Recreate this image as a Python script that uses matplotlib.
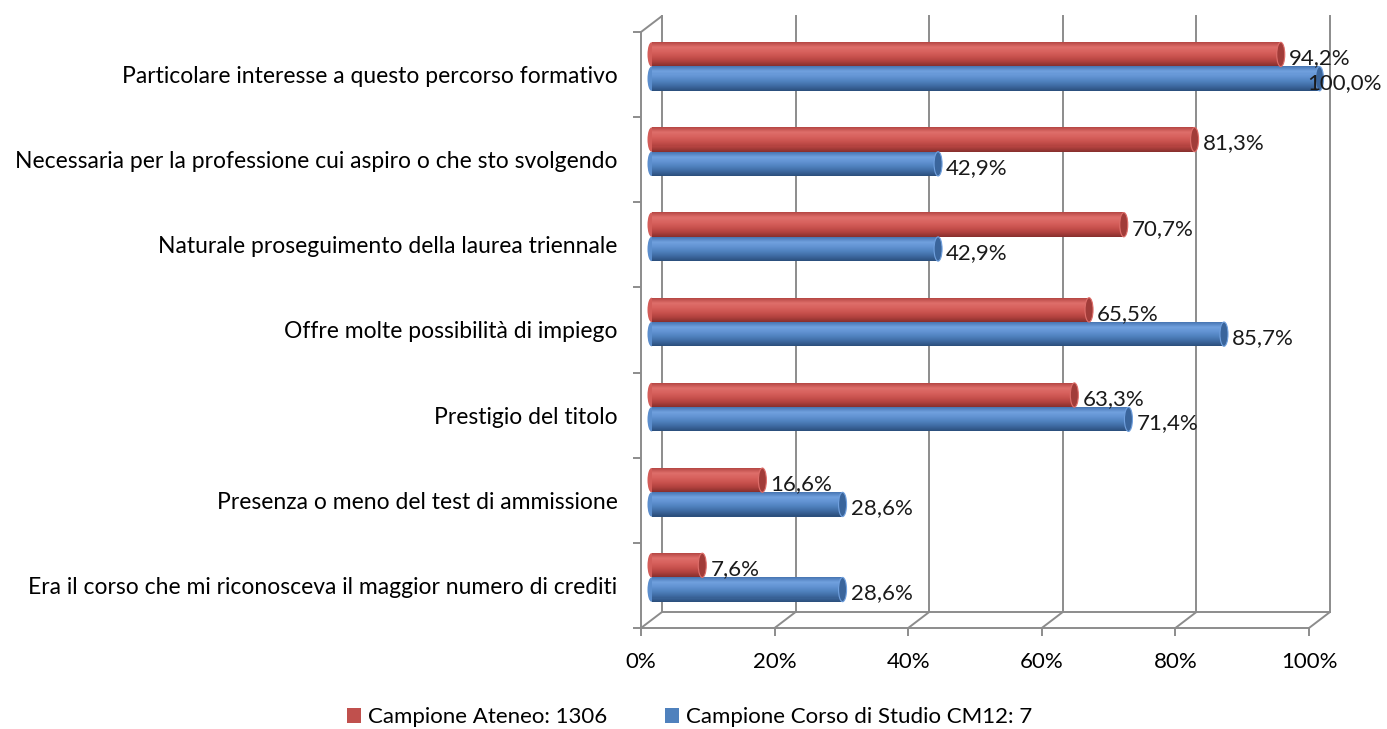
import matplotlib
matplotlib.use("Agg")
import matplotlib.pyplot as plt
import numpy as np
from matplotlib.transforms import offset_copy
from matplotlib.patches import Ellipse, ConnectionPatch, Patch
from matplotlib.colors import LinearSegmentedColormap

categories = [
    "Era il corso che mi riconosceva il maggior numero di crediti",
    "Presenza o meno del test di ammissione",
    "Prestigio del titolo",
    "Offre molte possibilità di impiego",
    "Naturale proseguimento della laurea triennale",
    "Necessaria per la professione cui aspiro o che sto svolgendo",
    "Particolare interesse a questo percorso formativo",
]
ateneo = [7.6, 16.6, 63.3, 65.5, 70.7, 81.3, 94.2]
corso = [28.6, 28.6, 71.4, 85.7, 42.9, 42.9, 100.0]
series_names = ["Campione Ateneo: 1306", "Campione Corso di Studio CM12: 7"]
xticks = [0, 20, 40, 60, 80, 100]
xtick_labels = ["0%", "20%", "40%", "60%", "80%", "100%"]

plt.rcParams['font.family'] = ['Lato', 'DejaVu Sans']
FS_CAT = 16.5
FS_NUM = 16
GRID = "#8c8c8c"

fig = plt.figure(figsize=(13.87, 7.29), dpi=100)
ax = fig.add_axes([641/1387, 101/729, 668/1387, 596/729])
ax.set_xlim(0, 100)
ax.set_ylim(0, len(categories))

back = offset_copy(ax.transData, fig=fig, x=21, y=16, units='dots')
mid = offset_copy(ax.transData, fig=fig, x=10.5, y=8, units='dots')

# back wall gridlines and floor
for v in xticks:
    ax.plot([v, v], [0, len(categories)], transform=back, color=GRID, lw=1.4,
            clip_on=False, zorder=1)
    ax.add_artist(ConnectionPatch(xyA=(v, 0), coordsA=ax.transData,
                                  xyB=(v, 0), coordsB=back, color=GRID, lw=1.4,
                                  zorder=1))
ax.plot([0, 100], [0, 0], transform=back, color=GRID, lw=1.4, clip_on=False, zorder=1)
ax.add_artist(ConnectionPatch(xyA=(0, len(categories)), coordsA=ax.transData,
                              xyB=(0, len(categories)), coordsB=back, color=GRID,
                              lw=1.4, zorder=1))

red_cm = LinearSegmentedColormap.from_list(
    "r", ["#b84946", "#de6e6a", "#d7615d", "#c9524e", "#b2423f", "#8a302e"])
blue_cm = LinearSegmentedColormap.from_list(
    "b", ["#4a78b5", "#70a0de", "#6192d2", "#4f81bd", "#3e6aa2", "#2c507e"])
red_cap = "#a13c39"
blue_cap = "#3a659c"

bh = 0.285
N = 24
centers = np.arange(len(categories)) + 0.5


def draw_bars(vals, y0s, cmap, capc):
    for v, y0 in zip(vals, y0s):
        # left rounded end
        ax.add_patch(Ellipse((0, y0 + bh/2), 1.2, bh, transform=mid,
                             facecolor=cmap(0.45), edgecolor='none', zorder=3,
                             clip_on=False))
        for k in range(N):
            ys = y0 + bh - (k + 1) * bh / N
            ax.barh(ys, v, left=0, height=bh / N * 1.15, align='edge',
                    color=cmap(k / (N - 1)), linewidth=0, transform=mid,
                    zorder=3, clip_on=False)
        ax.add_patch(Ellipse((v, y0 + bh/2), 1.2, bh, transform=mid,
                             facecolor=capc, edgecolor=cmap(0.2), lw=0.8,
                             zorder=4, clip_on=False))


draw_bars(ateneo, centers, red_cm, red_cap)
draw_bars(corso, centers - bh, blue_cm, blue_cap)


def lab(v):
    return f"{v:.1f}%".replace(".", ",")


for vals, yc in ((ateneo, centers + bh/2), (corso, centers - bh/2)):
    for v, y in zip(vals, yc):
        dx = -12 if v >= 100 else 8
        ax.annotate(lab(v), xy=(v, y), xycoords=mid, xytext=(dx, -4),
                    textcoords='offset pixels', ha='left', va='center',
                    fontsize=FS_NUM, color='#1a1a1a', zorder=6)

# axes styling
for s in ['top', 'right']:
    ax.spines[s].set_visible(False)
for s in ['left', 'bottom']:
    ax.spines[s].set_color(GRID)
    ax.spines[s].set_linewidth(1.4)
ax.set_xticks(xticks)
ax.set_xticklabels(xtick_labels, fontsize=FS_NUM)
ax.tick_params(axis='x', length=6, width=1.4, color=GRID, pad=11)
ax.set_yticks(centers)
ax.set_yticklabels(categories, fontsize=FS_CAT)
ax.tick_params(axis='y', length=0, pad=17)
ax.set_yticks(np.arange(len(categories) + 1), minor=True)
ax.tick_params(axis='y', which='minor', length=6, width=1.4, color=GRID)
ax.patch.set_visible(False)

handles = [Patch(facecolor="#c0504d", edgecolor='none'),
           Patch(facecolor="#4f81bd", edgecolor='none')]
fig.legend(handles, series_names, loc='center', bbox_to_anchor=(0.497, 0.016),
           ncol=2, frameon=False, fontsize=FS_NUM, handlelength=0.65,
           handleheight=0.65, handletextpad=0.3, columnspacing=2.6)

fig.savefig("out.png", dpi=100)
